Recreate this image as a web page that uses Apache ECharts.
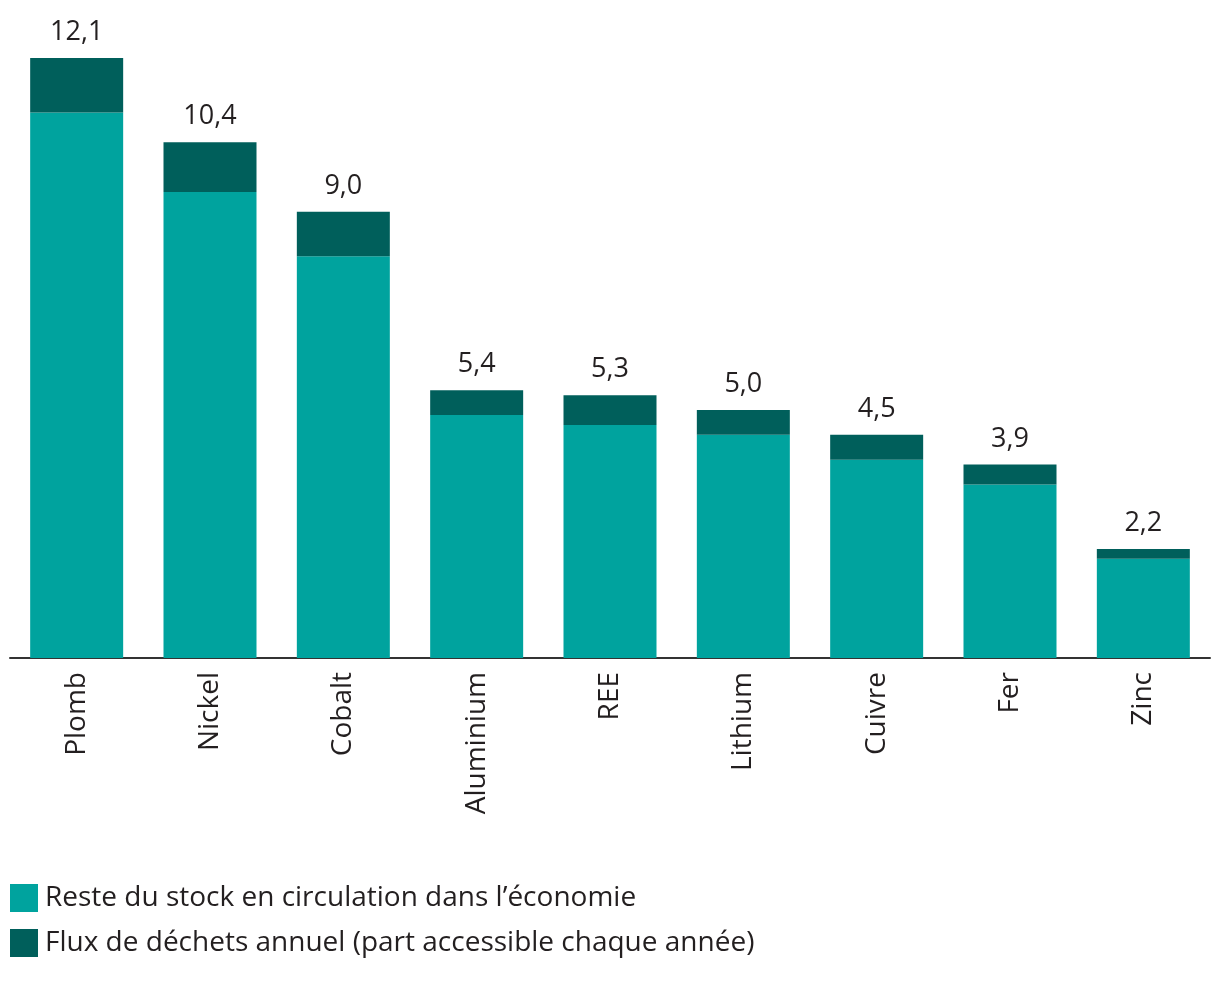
<!DOCTYPE html>
<html><head><meta charset="utf-8">
<script src="https://cdn.jsdelivr.net/npm/echarts@6/dist/echarts.min.js"></script>
<style>html,body{margin:0;padding:0;background:#fff}#c{width:1220px;height:986px}</style>
</head><body><div id="c"></div>
<script>
const categories = ['Plomb','Nickel','Cobalt','Aluminium','REE','Lithium','Cuivre','Fer','Zinc'];
const stock = [11.0, 9.4, 8.1, 4.9, 4.7, 4.5, 4.0, 3.5, 2.0];
const flux = [1.1, 1.0, 0.9, 0.5, 0.6, 0.5, 0.5, 0.4, 0.2];
const totals = [12.1, 10.4, 9.0, 5.4, 5.3, 5.0, 4.5, 3.9, 2.2];
const seriesNames = ['Reste du stock en circulation dans l\u2019économie','Flux de déchets annuel (part accessible chaque année)'];
const FONT = 'Open Sans';
const chart = echarts.init(document.getElementById('c'));
chart.setOption({
  animation: false,
  textStyle: {fontFamily: FONT},
  grid: {left: 10, right: 10, top: 58, height: 600},
  legend: {
    orient: 'vertical', left: 5, top: 879,
    itemWidth: 28, itemHeight: 28, itemGap: 17,
    icon: 'rect',
    textStyle: {fontSize: 28, color: '#231f20', fontFamily: FONT, padding: [0,0,0,2]},
    data: seriesNames
  },
  xAxis: {
    type: 'category', data: categories,
    axisLine: {lineStyle: {color: '#333', width: 2}},
    axisTick: {show: false},
    axisLabel: {rotate: 90, fontSize: 28, color: '#231f20', margin: 14, fontFamily: FONT}
  },
  yAxis: {
    type: 'value', min: 0, max: 12.1,
    show: false, splitLine: {show: false}
  },
  series: [
    {name: seriesNames[0], type: 'bar', stack: 't', data: stock, barWidth: 93,
     itemStyle: {color: '#00a39e'}},
    {name: seriesNames[1], type: 'bar', stack: 't', data: flux, barWidth: 93,
     itemStyle: {color: '#005f5b'},
     label: {show: true, position: 'top', distance: 12, fontSize: 27, color: '#231f20', fontFamily: FONT,
       formatter: p => totals[p.dataIndex].toFixed(1).replace('.', ',')}}
  ]
});
</script></body></html>
